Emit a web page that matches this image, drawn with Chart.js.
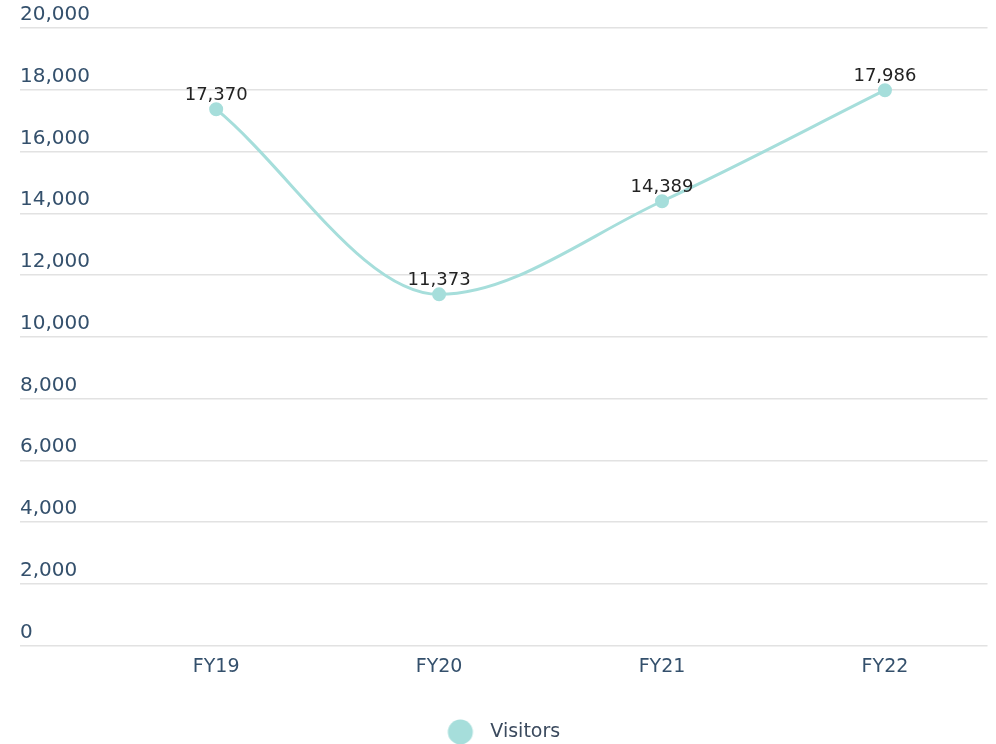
<!DOCTYPE html>
<html>
<head>
<meta charset="utf-8">
<script src="https://cdn.jsdelivr.net/npm/chart.js@4/dist/chart.umd.min.js"></script>
<style>
  html, body { margin: 0; padding: 0; background: #ffffff; }
  #wrap { width: 996px; height: 744px; position: relative; }
</style>
</head>
<body>
<div id="wrap"><canvas id="c" width="996" height="744"></canvas></div>
<script>
const categories = ["FY19", "FY20", "FY21", "FY22"];
const visitors = [17370, 11373, 14389, 17986];
const seriesName = "Visitors";
const yMin = 0, yMax = 20000, yStep = 2000;

const FONT = "'DejaVu Sans', sans-serif";
const TICK_COLOR = "#34506c";
const LINE_COLOR = "#a6dedb";

// legend marker: circle drawn on the left part of a wider transparent canvas
const legendMarker = document.createElement("canvas");
legendMarker.width = 50;
legendMarker.height = 26;
(function () {
  const g = legendMarker.getContext("2d");
  g.fillStyle = LINE_COLOR;
  g.beginPath();
  g.arc(14, 13, 12.5, 0, Math.PI * 2);
  g.fill();
})();

const valueLabels = {
  id: "valueLabels",
  afterDatasetsDraw(chart) {
    const ctx = chart.ctx;
    const meta = chart.getDatasetMeta(0);
    ctx.save();
    ctx.font = "18px " + FONT;
    ctx.fillStyle = "#222222";
    ctx.textAlign = "center";
    ctx.textBaseline = "alphabetic";
    meta.data.forEach((pt, i) => {
      const v = chart.data.datasets[0].data[i].y;
      ctx.fillText(v.toLocaleString("en-US"), pt.x, pt.y - 9);
    });
    ctx.restore();
  }
};

new Chart(document.getElementById("c"), {
  type: "line",
  data: {
    datasets: [{
      label: seriesName,
      data: visitors.map((v, i) => ({ x: i, y: v })),
      borderColor: LINE_COLOR,
      backgroundColor: LINE_COLOR,
      pointBackgroundColor: LINE_COLOR,
      pointBorderColor: LINE_COLOR,
      borderWidth: 3,
      pointRadius: 5.5,
      cubicInterpolationMode: "monotone",
      fill: false
    }]
  },
  options: {
    responsive: false,
    animation: false,
    devicePixelRatio: 1,
    layout: { padding: { left: 20, right: -6, top: 28, bottom: -7.5 } },
    plugins: {
      legend: {
        position: "bottom",
        labels: {
          usePointStyle: true,
          generateLabels: (chart) => {
            const items = Chart.defaults.plugins.legend.labels.generateLabels(chart);
            items.forEach(it => { it.pointStyle = legendMarker; });
            return items;
          },
          color: "#3b4a5e",
          font: { family: FONT, size: 19 },
          padding: 4
        }
      },
      tooltip: { enabled: false }
    },
    scales: {
      x: {
        type: "linear",
        min: -0.88,
        max: 3.46,
        grid: { display: false, drawTicks: false },
        border: { display: false },
        afterFit: (scale) => { scale.height = 73; },
        ticks: {
          stepSize: 1,
          includeBounds: false,
          autoSkip: false,
          maxRotation: 0,
          padding: 10,
          color: TICK_COLOR,
          font: { family: FONT, size: 19 },
          callback: (v) => (Number.isInteger(v) && categories[v] !== undefined) ? categories[v] : ""
        }
      },
      y: {
        min: yMin,
        max: yMax,
        grid: { color: "#e2e2e2", lineWidth: 1.5, drawTicks: false },
        border: { display: false },
        ticks: {
          stepSize: yStep,
          mirror: true,
          padding: 0,
          labelOffset: -13,
          color: TICK_COLOR,
          font: { family: FONT, size: 20 },
          callback: (v) => v.toLocaleString("en-US")
        }
      }
    }
  },
  plugins: [valueLabels]
});
</script>
</body>
</html>
